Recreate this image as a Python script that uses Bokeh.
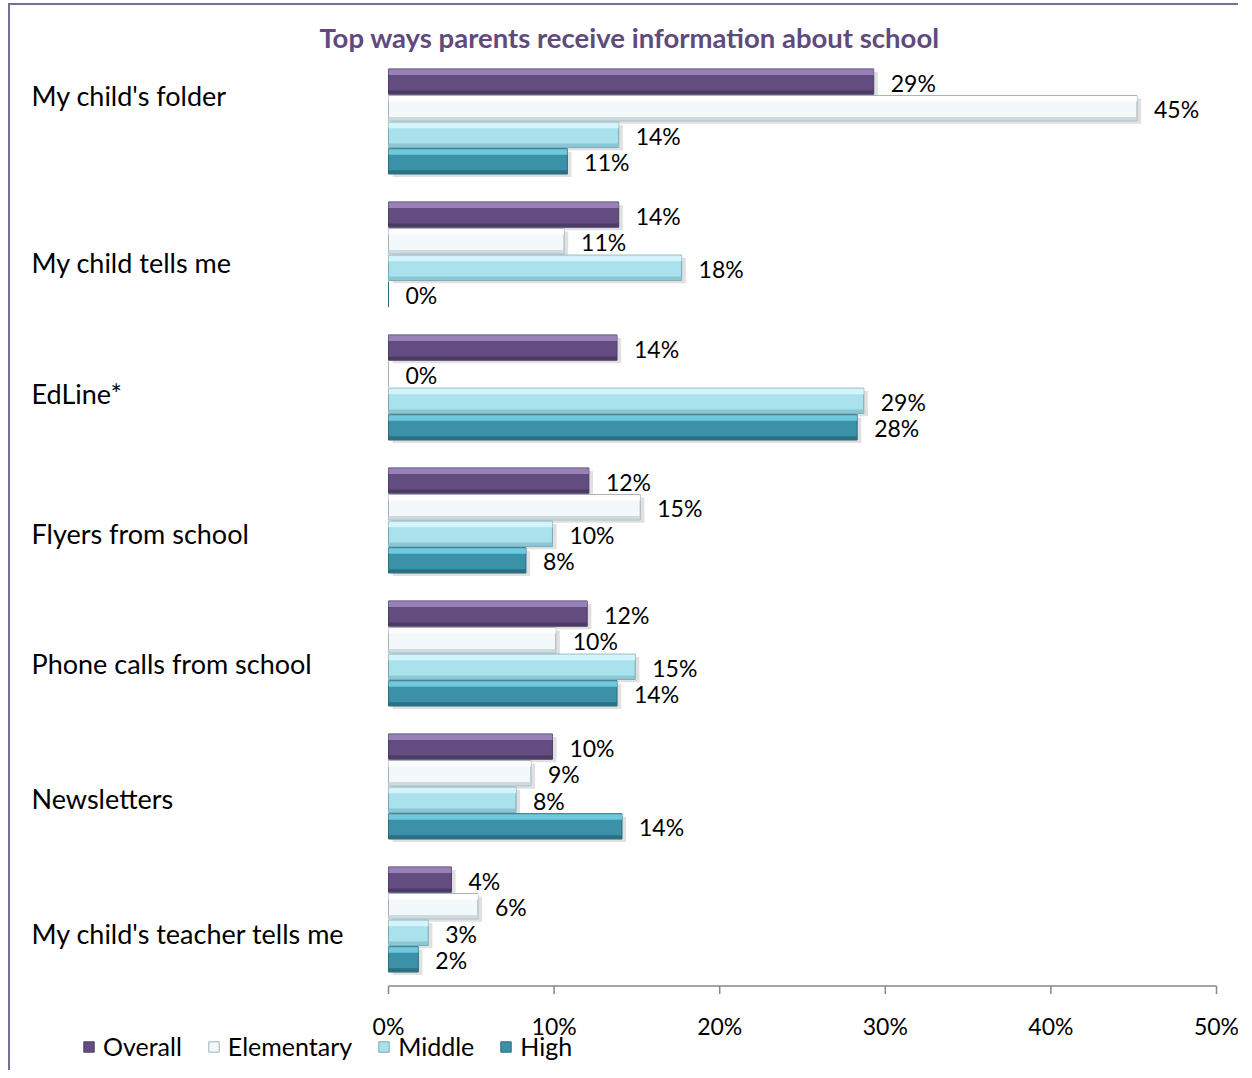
from bokeh.plotting import figure
from bokeh.models import ColumnDataSource, Label, Legend, LegendItem, Range1d
from bokeh.core.properties import value
from bokeh.embed import file_html
from bokeh.resources import INLINE

# ---------------- data ----------------
categories = ["My child's folder", "My child tells me", "EdLine*", "Flyers from school",
              "Phone calls from school", "Newsletters", "My child's teacher tells me"]
series_names = ["Overall", "Elementary", "Middle", "High"]
overall = [29.3, 13.9, 13.8, 12.1, 12.0, 9.9, 3.8]
elementary = [45.2, 10.6, 0.0, 15.2, 10.1, 8.6, 5.4]
middle = [13.9, 17.7, 28.7, 9.9, 14.9, 7.7, 2.4]
high = [10.8, 0.0, 28.3, 8.3, 13.8, 14.1, 1.8]
overall_lbl = ["29%", "14%", "14%", "12%", "12%", "10%", "4%"]
elementary_lbl = ["45%", "11%", "0%", "15%", "10%", "9%", "6%"]
middle_lbl = ["14%", "18%", "29%", "10%", "15%", "8%", "3%"]
high_lbl = ["11%", "0%", "28%", "8%", "14%", "14%", "2%"]
tick_values = [0, 10, 20, 30, 40, 50]
tick_labels = ["0%", "10%", "20%", "30%", "40%", "50%"]
title_text = "Top ways parents receive information about school"

# ---------------- layout / style ----------------
FONT = "Lato"
W, H = 1230, 1067              # canvas size (page x 10..1240, page y 5..1072)
PX_X = 828 / 50                # pixels per percentage point
PX_Y = 133                     # pixels per category
X0_PAGE, Y0_PAGE = 10, 5       # canvas origin on the page
ZERO_PAGE_X = 388              # page x of 0%
LAST_CAT_PAGE_Y = 919          # page y of last category centre
label_nudge_px = [-26, 8, 6, 13, 10, 12, 14]   # vertical nudge of category labels (down)
styles = {
    "Overall":    dict(main="#634d80", top="#a08bc0", bot="#48385f", line="#4d3c66"),
    "Elementary": dict(main="#f3f9fb", top="#ffffff", bot="#c8d7dd", line="#a0b1b8"),
    "Middle":     dict(main="#a9e2ed", top="#daf7fc", bot="#86c4d0", line="#7aa8b1"),
    "High":       dict(main="#3b91a7", top="#78d2e8", bot="#296d7e", line="#2b6a7a"),
}
offsets = [0.3, 0.1, -0.1, -0.3]
BAR_H = 0.19

def px_to_x(px):
    return (px - ZERO_PAGE_X) / PX_X

def py_to_y(py):
    return (LAST_CAT_PAGE_Y - py) / PX_Y

n = len(categories)
cat_y = [n - 1 - i for i in range(n)]

p = figure(width=W, height=H, output_backend="svg", toolbar_location=None,
           x_range=Range1d(px_to_x(X0_PAGE), px_to_x(X0_PAGE + W)),
           y_range=Range1d(py_to_y(Y0_PAGE + H), py_to_y(Y0_PAGE)),
           min_border=0)
p.styles = {"border-left": "2px solid #7d6b98", "border-top": "2px solid #7d6b98",
            "margin-left": "8px", "margin-top": "3px"}
p.outline_line_color = None
p.grid.visible = False
p.axis.visible = False
p.background_fill_color = "white"
p.border_fill_color = "white"

# ---------------- bars ----------------
all_vals = [overall, elementary, middle, high]
all_lbls = [overall_lbl, elementary_lbl, middle_lbl, high_lbl]
legend_items = []
for name, vals, lbls, off in zip(series_names, all_vals, all_lbls, offsets):
    st = styles[name]
    src = ColumnDataSource(dict(
        y=[c + off for c in cat_y], v=vals, lab=lbls,
        ys=[c + off - 0.022 for c in cat_y], vs=[v + 0.25 for v in vals],
        yt=[c + off + BAR_H / 2 - 0.024 for c in cat_y],
        yb=[c + off - BAR_H / 2 + 0.016 for c in cat_y]))
    p.hbar(y="ys", left=0.25, right="vs", height=BAR_H, source=src,
           fill_color="#000000", fill_alpha=0.12, line_color=None)
    main = p.hbar(y="y", left=0, right="v", height=BAR_H, source=src,
                  fill_color=st["main"], line_color=st["line"], line_width=1)
    p.hbar(y="yt", left=0, right="v", height=0.042, source=src,
           fill_color=st["top"], fill_alpha=0.85, line_color=None)
    p.hbar(y="yb", left=0, right="v", height=0.026, source=src,
           fill_color=st["bot"], fill_alpha=0.9, line_color=None)
    p.text(x="v", y="y", text="lab", source=src, x_offset=17, y_offset=1,
           text_baseline="middle", text_align="left", text_font=value(FONT),
           text_font_size="23px", text_color="#000000")
    legend_items.append(LegendItem(label=name, renderers=[main]))

# ---------------- category labels ----------------
cat_src = ColumnDataSource(dict(x=[0] * n, y=cat_y, t=categories, yo=label_nudge_px))
p.text(x="x", y="y", text="t", source=cat_src, x_offset=-357, y_offset="yo",
       text_align="left", text_baseline="middle", text_font=value(FONT),
       text_font_size="27px", text_color="#000000")

# ---------------- x axis (drawn) ----------------
axis_y = -0.5
tick_len = 8 / PX_Y
p.segment(x0=[tick_values[0]], y0=[axis_y], x1=[tick_values[-1]], y1=[axis_y],
          line_color="#878787", line_width=1.5)
tick_src = ColumnDataSource(dict(x=tick_values, y0=[axis_y] * len(tick_values),
                                 y1=[axis_y - tick_len] * len(tick_values), t=tick_labels))
p.segment(x0="x", y0="y0", x1="x", y1="y1", source=tick_src,
          line_color="#878787", line_width=1.5)
p.text(x="x", y="y0", text="t", source=tick_src, y_offset=40, text_align="center",
       text_baseline="middle", text_font=value(FONT), text_font_size="23px",
       text_color="#000000")

# ---------------- title ----------------
title = Label(x=px_to_x(629), y=py_to_y(37), text=title_text, text_align="center",
              text_baseline="middle", text_font=FONT, text_font_size="27.5px",
              text_font_style="bold", text_color="#604a7b")
p.add_layout(title)

# ---------------- legend ----------------
legend = Legend(items=legend_items, orientation="horizontal", location=(72, 11),
                glyph_width=13, glyph_height=13, label_standoff=8, spacing=25,
                padding=0, margin=0, border_line_color=None, background_fill_alpha=0,
                label_text_font=FONT, label_text_font_size="25px",
                label_text_color="#000000")
p.add_layout(legend, "center")

open("out.html", "w").write(file_html(p, INLINE))
